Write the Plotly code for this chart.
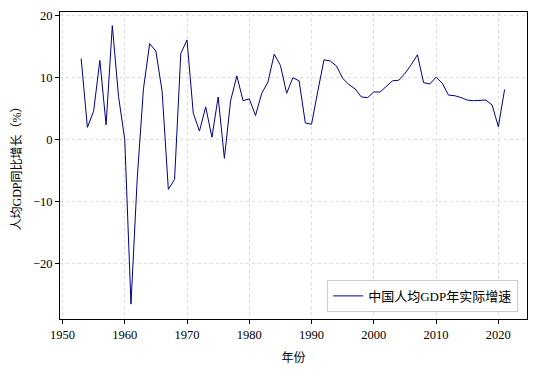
import plotly.graph_objects as go

years = list(range(1953, 2022))
growth = [13.1, 2.0, 4.6, 12.8, 2.4, 18.4, 7.0, 0.0, -26.5, -6.3,
          8.2, 15.5, 14.3, 7.8, -8.0, -6.4, 13.9, 16.1, 4.3, 1.4,
          5.3, 0.4, 6.9, -3.0, 6.3, 10.3, 6.3, 6.6, 3.9, 7.5,
          9.3, 13.8, 12.0, 7.5, 10.0, 9.5, 2.7, 2.5, 7.8, 12.9,
          12.7, 11.9, 9.9, 8.9, 8.2, 6.9, 6.8, 7.7, 7.7, 8.6,
          9.5, 9.6, 10.7, 12.1, 13.7, 9.2, 9.0, 10.1, 9.1, 7.2,
          7.1, 6.8, 6.4, 6.3, 6.4, 6.4, 5.6, 2.1, 8.1]
series_name = "中国人均GDP年实际增速"
x_title = "年份"
y_title = "人均GDP同比增长（%）"
x_ticks = [1950, 1960, 1970, 1980, 1990, 2000, 2010, 2020]
y_ticks = [-20, -10, 0, 10, 20]

FONT = "Liberation Serif, Noto Sans CJK SC, serif"

fig = go.Figure()
fig.add_trace(go.Scatter(x=years, y=growth, mode="lines", name=series_name,
                         line=dict(color="#00008B", width=1)))

axis_common = dict(showline=True, linecolor="black", linewidth=1, mirror=True,
                   ticks="outside", ticklen=4, tickcolor="black",
                   showgrid=True, gridcolor="#dddddd", griddash="dot", gridwidth=1,
                   zeroline=False, automargin=False,
                   tickfont=dict(family=FONT, size=12.5, color="black"))

fig.update_xaxes(range=[1949.6, 2024.6], tickvals=x_ticks,
                 title=dict(text=x_title, font=dict(family=FONT, size=12, color="black"), standoff=12),
                 **axis_common)
fig.update_yaxes(range=[-28.9, 20.6], tickvals=y_ticks,
                 title=dict(text=y_title, font=dict(family=FONT, size=12, color="black"), standoff=8),
                 **axis_common)

fig.update_layout(
    width=534, height=371,
    margin=dict(l=60, r=7, t=12, b=52),
    paper_bgcolor="white", plot_bgcolor="white",
    font=dict(family=FONT, size=12, color="black"),
    showlegend=True,
    legend=dict(x=0.981, y=0.023, xanchor="right", yanchor="bottom",
                bgcolor="rgba(255,255,255,0.8)", bordercolor="#cccccc", borderwidth=1,
                font=dict(family=FONT, size=13, color="black")),
)

fig.write_html("out.html", config={"displayModeBar": False},
               post_script="document.body.style.margin='0';document.body.style.padding='0';")
